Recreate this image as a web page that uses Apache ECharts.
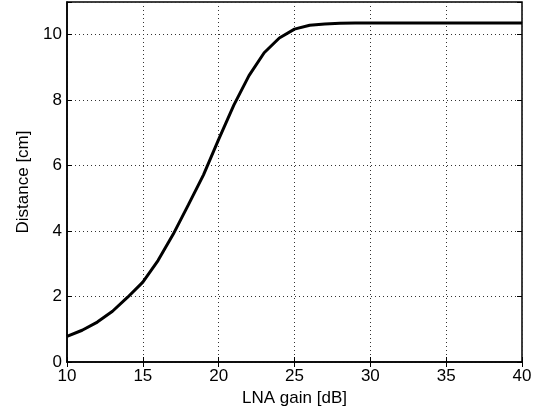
<!DOCTYPE html>
<html>
<head>
<meta charset="utf-8">
<style>
  html, body { margin: 0; padding: 0; background: #fff; }
  #chart { width: 542px; height: 412px; }
</style>
<script src="https://cdn.jsdelivr.net/npm/echarts@6/dist/echarts.min.js"></script>
</head>
<body>
<div id="chart"></div>
<script>
// LNA gain sweep (dB) and the resulting detection distance (cm)
const gainDb = [10, 11, 12, 13, 14, 15, 16, 17, 18, 19, 20, 21, 22, 23, 24, 25,
                26, 27, 28, 29, 30, 31, 32, 33, 34, 35, 36, 37, 38, 39, 40];
const distanceCm = [0.78, 0.97, 1.22, 1.55, 1.98, 2.44, 3.1, 3.9, 4.8, 5.72, 6.8,
                    7.85, 8.75, 9.45, 9.9, 10.17, 10.29, 10.33, 10.35, 10.36, 10.36,
                    10.36, 10.36, 10.36, 10.36, 10.36, 10.36, 10.36, 10.36, 10.36, 10.36];
const xTicks = [10, 15, 20, 25, 30, 35, 40];
const yTicks = [0, 2, 4, 6, 8, 10];

const font = 'Liberation Sans, Arial, sans-serif';
const gridDots = { color: '#333', width: 1, type: [1, 3] };
const inTick = { show: true, inside: true, length: 5, lineStyle: { color: '#000', width: 1 } };

const chart = echarts.init(document.getElementById('chart'), null, { renderer: 'canvas' });
chart.setOption({
  animation: false,
  backgroundColor: '#fff',
  grid: { left: 67, right: 20, top: 2, bottom: 50, show: true, borderColor: '#000', borderWidth: 1.5, backgroundColor: 'transparent' },
  xAxis: [{
    type: 'value', min: xTicks[0], max: xTicks[xTicks.length - 1], interval: 5,
    name: 'LNA gain [dB]', nameLocation: 'middle', nameGap: 26,
    nameTextStyle: { fontFamily: font, fontSize: 17, color: '#000' },
    axisLine: { show: true, lineStyle: { color: '#000', width: 1.5 } },
    axisTick: inTick,
    axisLabel: { fontFamily: font, fontSize: 17, color: '#000', margin: 6 },
    splitLine: { show: true, lineStyle: gridDots }
  }, {
    type: 'value', position: 'top', min: xTicks[0], max: xTicks[xTicks.length - 1], interval: 5,
    axisLine: { show: false }, axisTick: inTick, axisLabel: { show: false }, splitLine: { show: false }
  }],
  yAxis: [{
    type: 'value', min: 0, max: 11, interval: 2,
    name: 'Distance [cm]', nameLocation: 'middle', nameGap: 32,
    nameTextStyle: { fontFamily: font, fontSize: 17, color: '#000' },
    axisLine: { show: true, lineStyle: { color: '#000', width: 1.5 } },
    axisTick: inTick,
    axisLabel: {
      fontFamily: font, fontSize: 17, color: '#000', margin: 5,
      formatter: v => (yTicks.indexOf(v) >= 0 ? String(v) : '')
    },
    splitLine: { show: true, lineStyle: gridDots }
  }, {
    type: 'value', position: 'right', min: 0, max: 11, interval: 2,
    axisLine: { show: false }, axisTick: inTick, axisLabel: { show: false }, splitLine: { show: false }
  }],
  series: [{
    type: 'line',
    data: gainDb.map((g, i) => [g, distanceCm[i]]),
    showSymbol: false,
    smooth: false,
    lineStyle: { color: '#000', width: 3 },
    z: 5
  }]
});
</script>
</body>
</html>
